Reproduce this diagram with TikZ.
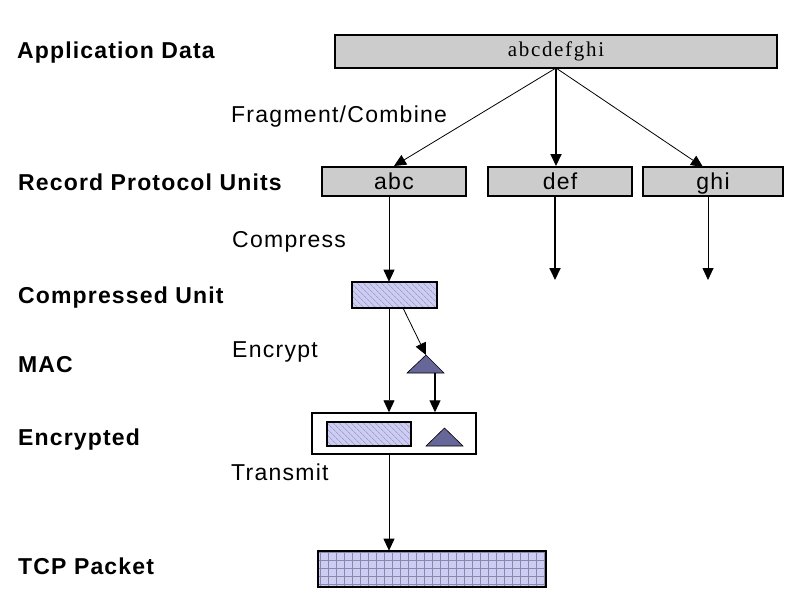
\documentclass[tikz,border=0pt]{standalone}
\usepackage{fontspec}
\setmainfont{Liberation Sans}
\newfontfamily\lblfont{Liberation Sans}[LetterSpace=5]
\newfontfamily\stepfont{Liberation Sans}[LetterSpace=5.5]
\newfontfamily\serfont{Liberation Serif}[LetterSpace=8]
\usetikzlibrary{arrows.meta,patterns.meta,calc}
\definecolor{boxgray}{HTML}{CCCCCC}
\definecolor{lav}{HTML}{CCCCF4}
\definecolor{macblue}{HTML}{666699}
\definecolor{hatchc}{HTML}{8A8AA8}
\tikzset{
  lbl/.style={anchor=base west,inner sep=0,font=\lblfont\bfseries\fontsize{23pt}{26pt}\selectfont},
  stepl/.style={anchor=base west,inner sep=0,font=\stepfont\fontsize{23pt}{26pt}\selectfont},
  gbox/.style={draw=black,line width=2pt,fill=boxgray,inner sep=0,text height=17pt,text depth=2pt,font=\stepfont\fontsize{23pt}{26pt}\selectfont},
  hbox/.style={draw=black,line width=1.5pt,inner sep=0,preaction={fill=lav},pattern={Lines[angle=-45,distance=4pt,line width=0.6pt]},pattern color=hatchc},
  gridbox/.style={draw=black,line width=1.5pt,inner sep=0,preaction={fill=lav},pattern={Hatch[distance=8pt,line width=0.7pt]},pattern color=hatchc},
  arr/.style={draw=black,line width=0.8pt,-{Triangle[width=11pt,length=12pt]}},
  macshape/.style={fill=macblue,draw=black,line width=0.6pt}
}
\begin{document}
\begin{tikzpicture}[x=1pt,y=-1pt]
\useasboundingbox[fill=white] (0,0) rectangle (800,600);

% left labels
\node[lbl] (l1) at (17,58) {Application Data};
\node[lbl] (l2) at (18,190) {Record Protocol Units};
\node[lbl] (l3) at (18,303) {Compressed Unit};
\node[lbl] (l4) at (18,372) {MAC};
\node[lbl] (l5) at (18,445) {Encrypted};
\node[lbl] (l6) at (18,574) {TCP Packet};

% step labels
\node[stepl] (s1) at (231,122) {Fragment/Combine};
\node[stepl] (s2) at (232,247) {Compress};
\node[stepl] (s3) at (232,357) {Encrypt};
\node[stepl] (s4) at (231,480) {Transmit};

% boxes
\node[gbox,minimum width=442pt,minimum height=33pt,text height=14pt,text depth=5pt,font=\serfont\fontsize{21pt}{23pt}\selectfont] (app) at (556,51.5) {abcdefghi};
\node[gbox,minimum width=144pt,minimum height=29pt] (abc) at (394,181.5) {abc};
\node[gbox,minimum width=144pt,minimum height=29pt] (def) at (560,181.5) {def};
\node[gbox,minimum width=140pt,minimum height=29pt] (ghi) at (713,181.5) {ghi};

\node[hbox,minimum width=85pt,minimum height=26pt] (comp) at (394.5,295) {};

% MAC triangle
\draw[macshape] (407,373) -- (426,355) -- (444,373) -- cycle;
\coordinate (macapex) at (426,355);
\coordinate (macbase) at (435,373);

% encrypted
\node[draw=black,line width=1.5pt,fill=white,minimum width=164pt,minimum height=41pt,inner sep=0] (enc) at (394,433.5) {};
\node[hbox,minimum width=84pt,minimum height=24pt] (encdata) at (369,434) {};
\draw[macshape] (426,446) -- (444.5,428) -- (463,446) -- cycle;
\coordinate (encmac) at (444.5,437);

% TCP packet
\node[gridbox,minimum width=228pt,minimum height=36pt] (tcp) at (432,569) {};

% connectors
\coordinate (appout) at (556,68);
\coordinate (ghiin) at (703,167);
\draw[arr] (appout) -- (abc.north);
\draw[arr,line width=1.8pt] (appout) -- (appout |- def.north);
\draw[arr] (appout) -- (ghiin);

\coordinate (xa) at (389,0);
\draw[arr] (xa |- abc.south) -- (xa |- comp.north);
\coordinate (defend) at (555,280);
\coordinate (ghiend) at (708,280);
\draw[arr,line width=1.8pt] (defend |- def.south) -- (defend);
\draw[arr] (ghiend |- ghi.south) -- (ghiend);

\coordinate (compout) at (403,308);
\draw[arr] (compout) -- (macapex);
\draw[arr] (xa |- comp.south) -- (xa |- enc.north);
\draw[arr,line width=1.2pt] (macbase) -- (macbase |- enc.north);

\draw[arr] (xa |- enc.south) -- (xa |- tcp.north);
\end{tikzpicture}
\end{document}
